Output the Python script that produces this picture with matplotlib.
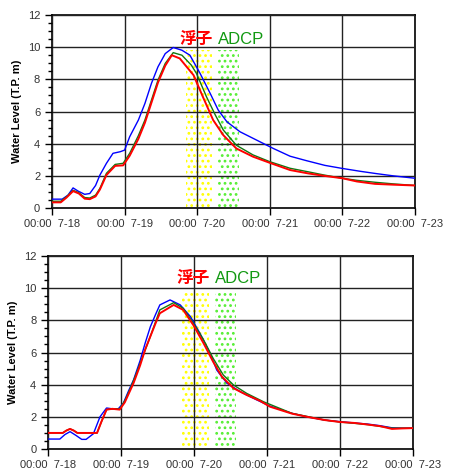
import matplotlib
matplotlib.use("Agg")
import matplotlib.pyplot as plt
from matplotlib.ticker import MultipleLocator

plt.rcParams.update({
    "font.family": ["Liberation Sans", "DejaVu Sans"],
    "font.size": 8,
    "hatch.linewidth": 1.2,
})

# x in days since 7-18 00:00
TICK_LABELS = ["00:00  7-18", "00:00  7-19", "00:00  7-20",
               "00:00  7-21", "00:00  7-22", "00:00  7-23"]
YELLOW_SPAN = (1.84, 2.21)
GREEN_SPAN = (2.29, 2.57)

# ---- top panel ----
top_blue_x = [0, 0.14, 0.22, 0.29, 0.36, 0.45, 0.52, 0.6, 0.66, 0.75, 0.84, 0.94,
              1.0, 1.07, 1.19, 1.28, 1.37, 1.46, 1.56, 1.67, 1.79, 1.9, 2.04,
              2.18, 2.29, 2.41, 2.59, 2.82, 3.05, 3.28, 3.5, 3.76, 4.0, 4.25,
              4.45, 4.7, 5.0]
top_blue_y = [0.55, 0.55, 0.8, 1.25, 1.05, 0.85, 0.9, 1.4, 2.05, 2.78, 3.4, 3.5,
              3.6, 4.43, 5.47, 6.5, 7.75, 8.78, 9.6, 9.98, 9.81, 9.5, 8.37,
              7.12, 6.09, 5.36, 4.74, 4.22, 3.7, 3.22, 2.95, 2.65, 2.46, 2.28,
              2.15, 2.0, 1.85]

top_green_x = [0, 0.12, 0.2, 0.29, 0.37, 0.45, 0.52, 0.6, 0.66, 0.75, 0.87, 0.98,
               1.07, 1.19, 1.28, 1.37, 1.46, 1.56, 1.67, 1.79, 1.92, 1.99, 2.13,
               2.25, 2.36, 2.54, 2.77, 3.0, 3.28, 3.53, 3.75, 4.0, 4.2, 4.45,
               4.7, 5.0]
top_green_y = [0.42, 0.42, 0.7, 1.1, 0.95, 0.65, 0.62, 0.8, 1.22, 2.16, 2.71, 2.78,
               3.4, 4.5, 5.47, 6.71, 7.95, 8.99, 9.66, 9.5, 8.88, 8.37, 6.9,
               5.78, 4.85, 3.9, 3.3, 2.88, 2.47, 2.25, 2.05, 1.85, 1.72, 1.6,
               1.5, 1.4]

top_red_x = [0, 0.12, 0.2, 0.29, 0.37, 0.45, 0.52, 0.6, 0.66, 0.75, 0.87, 0.98,
             1.07, 1.19, 1.28, 1.37, 1.46, 1.56, 1.65, 1.76, 1.95, 2.08, 2.22,
             2.36, 2.54, 2.77, 3.0, 3.28, 3.53, 3.75, 4.0, 4.2, 4.45, 4.7, 5.0]
top_red_y = [0.35, 0.35, 0.65, 1.05, 0.9, 0.58, 0.55, 0.72, 1.15, 2.05, 2.62, 2.65,
             3.25, 4.3, 5.3, 6.55, 7.8, 8.85, 9.5, 9.3, 8.26, 6.9, 5.47,
             4.53, 3.7, 3.19, 2.81, 2.36, 2.15, 2.0, 1.85, 1.65, 1.5, 1.45, 1.4]

# ---- bottom panel ----
bot_blue_x = [0, 0.16, 0.23, 0.3, 0.38, 0.46, 0.52, 0.62, 0.71, 0.8, 0.88,
              0.96, 1.03, 1.1, 1.17, 1.26, 1.33, 1.4, 1.47, 1.53, 1.67, 1.81,
              1.95, 2.08, 2.22, 2.31, 2.45, 2.63, 2.86, 3.04, 3.34, 3.55, 3.79,
              4.0, 4.2, 4.38, 4.55, 4.71, 4.85, 5.0]
bot_blue_y = [0.62, 0.62, 0.9, 1.08, 0.85, 0.6, 0.6, 0.95, 2.0, 2.55, 2.5,
              2.5, 2.85, 3.6, 4.3, 5.5, 6.6, 7.6, 8.35, 8.96, 9.27, 8.96,
              8.23, 7.19, 5.95, 4.91, 4.09, 3.57, 3.05, 2.67, 2.22, 2.0, 1.8,
              1.7, 1.62, 1.55, 1.45, 1.32, 1.3, 1.3]

bot_green_x = [0, 0.2, 0.25, 0.3, 0.35, 0.4, 0.67, 0.73, 0.8, 0.88, 0.98,
               1.05, 1.12, 1.2, 1.3, 1.4, 1.53, 1.72, 1.85, 1.99, 2.13, 2.26,
               2.4, 2.54, 2.72, 2.95, 3.34, 3.79, 4.0, 4.38, 4.71, 5.0]
bot_green_y = [1.0, 1.0, 1.15, 1.25, 1.15, 1.0, 1.0, 1.7, 2.45, 2.5, 2.5,
               3.0, 3.7, 4.6, 5.8, 7.0, 8.65, 9.1, 8.75, 7.82, 6.78, 5.64,
               4.6, 3.98, 3.46, 2.94, 2.22, 1.8, 1.68, 1.52, 1.3, 1.3]

bot_red_x = [0, 0.2, 0.25, 0.3, 0.35, 0.4, 0.67, 0.73, 0.8, 0.88, 0.98,
             1.05, 1.12, 1.17, 1.26, 1.33, 1.4, 1.47, 1.53, 1.72, 1.85, 1.99,
             2.13, 2.26, 2.38, 2.54, 2.72, 2.9, 3.04, 3.34, 3.55, 3.79, 4.0,
             4.2, 4.38, 4.55, 4.71, 4.85, 5.0]
bot_red_y = [1.0, 1.0, 1.15, 1.25, 1.15, 1.0, 1.0, 1.7, 2.45, 2.5, 2.45,
             2.9, 3.6, 4.1, 5.2, 6.2, 7.0, 7.8, 8.44, 8.96, 8.65, 7.7,
             6.57, 5.43, 4.5, 3.78, 3.36, 3.0, 2.63, 2.2, 2.0, 1.8, 1.68,
             1.62, 1.52, 1.42, 1.25, 1.28, 1.3]

panels = [
    ([0.1156, 0.5565, 0.8064, 0.4115],
     (top_blue_x, top_blue_y), (top_green_x, top_green_y), (top_red_x, top_red_y),
     9.8, 10.2),
    ([0.107, 0.0426, 0.811, 0.4115],
     (bot_blue_x, bot_blue_y), (bot_green_x, bot_green_y), (bot_red_x, bot_red_y),
     9.75, 10.35),
]

fig = plt.figure(figsize=(4.5, 4.69), dpi=100)

for rect, blue, green, red, span_top, label_y in panels:
    ax = fig.add_axes(rect)

    # hatched marker periods
    ax.fill_between(YELLOW_SPAN, 0, span_top, facecolor="none",
                    edgecolor="#FFFF00", hatch="...", linewidth=0, zorder=1)
    ax.fill_between(GREEN_SPAN, 0, span_top, facecolor="none",
                    edgecolor="#55EE33", hatch="...", linewidth=0, zorder=1)

    ax.plot(blue[0], blue[1], color="#0000FF", lw=1.0, zorder=3)
    ax.plot(green[0], green[1], color="#117711", lw=1.0, zorder=4)
    ax.plot(red[0], red[1], color="#FF0000", lw=1.4, zorder=5)

    ax.text(1.76, label_y, "浮子", color="#FF0000", fontsize=12,
            fontweight="bold", family=["Noto Sans CJK JP"], zorder=6)
    ax.text(2.29, label_y, "ADCP", color="#119911", fontsize=12, zorder=6)

    ax.set_xlim(0, 5)
    ax.set_ylim(0, 12)
    ax.set_xticks(range(6))
    ax.set_xticklabels(TICK_LABELS, fontsize=8, color="#333333")
    ax.yaxis.set_major_locator(MultipleLocator(2))
    ax.yaxis.set_minor_locator(MultipleLocator(0.5))
    ax.tick_params(axis="y", labelsize=8, labelcolor="#333333",
                   length=5, width=1, direction="out")
    ax.tick_params(axis="y", which="minor", length=3, width=1, direction="out")
    ax.tick_params(axis="x", length=5, width=1, direction="out", pad=3)
    ax.grid(True, color="#222222", lw=1.0, zorder=2)
    ax.set_axisbelow(False)
    for s in ax.spines.values():
        s.set_linewidth(1.2)
    ax.set_ylabel("Water Level (T.P. m)", fontsize=8, fontweight="bold",
                  labelpad=4)

plt.savefig("out.png", dpi=100)
